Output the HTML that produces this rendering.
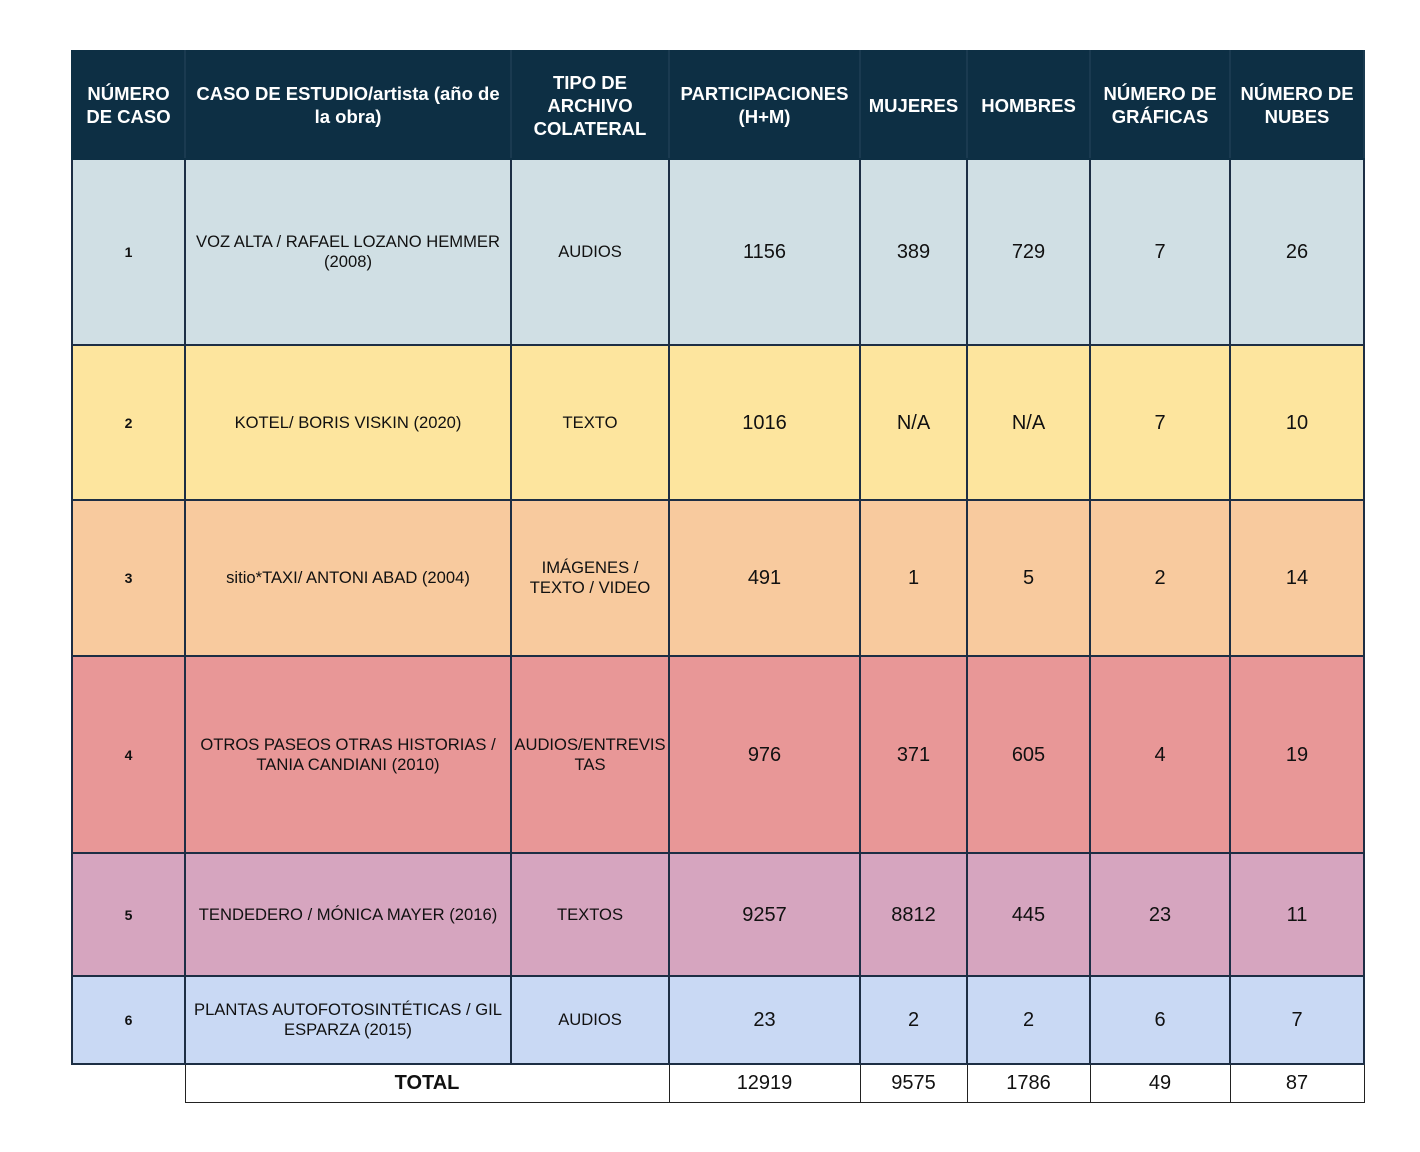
<!DOCTYPE html>
<html><head><meta charset="utf-8"><style>
body{margin:0;background:#fff;width:1420px;height:1152px;overflow:hidden;font-family:"Liberation Sans",Arial,sans-serif;}
table{position:absolute;left:71px;top:50px;border-collapse:collapse;table-layout:fixed;}
td{border:2px solid #1d2e44;text-align:center;vertical-align:middle;padding:0 2px;color:#111;font-size:16.6px;line-height:20px;}
tr.h td{background:#0d2f44;color:#fff;font-weight:bold;font-size:18.5px;line-height:23px;border-color:#0d2f44;border-right-color:#1a3a50;}
td.n{font-weight:bold;font-size:14px;}
td.v{font-size:20px;}
tr.t td{border:1px solid #222;font-size:20px;background:#fff;}
tr.t td.e{border:none;border-top:2px solid #1d2e44;}
</style></head><body>
<table>
<colgroup><col style="width:113px"><col style="width:326px"><col style="width:158px"><col style="width:191px"><col style="width:107px"><col style="width:123px"><col style="width:140px"><col style="width:134px"></colgroup>
<tr class="h" style="height:108px"><td>NÚMERO DE CASO</td><td>CASO DE ESTUDIO/artista (año de la obra)</td><td>TIPO DE ARCHIVO COLATERAL</td><td>PARTICIPACIONES (H+M)</td><td>MUJERES</td><td>HOMBRES</td><td>NÚMERO DE GRÁFICAS</td><td>NÚMERO DE NUBES</td></tr>
<tr style="height:186px;background:#d0dfe4"><td class="n">1</td><td>VOZ ALTA / RAFAEL LOZANO HEMMER (2008)</td><td>AUDIOS</td><td class="v">1156</td><td class="v">389</td><td class="v">729</td><td class="v">7</td><td class="v">26</td></tr>
<tr style="height:155px;background:#fde59e"><td class="n">2</td><td>KOTEL/ BORIS VISKIN (2020)</td><td>TEXTO</td><td class="v">1016</td><td class="v">N/A</td><td class="v">N/A</td><td class="v">7</td><td class="v">10</td></tr>
<tr style="height:156px;background:#f8ca9e"><td class="n">3</td><td>sitio*TAXI/ ANTONI ABAD (2004)</td><td>IMÁGENES /<br>TEXTO / VIDEO</td><td class="v">491</td><td class="v">1</td><td class="v">5</td><td class="v">2</td><td class="v">14</td></tr>
<tr style="height:197px;background:#e89797"><td class="n">4</td><td>OTROS PASEOS OTRAS HISTORIAS / TANIA CANDIANI (2010)</td><td>AUDIOS/ENTREVIS<br>TAS</td><td class="v">976</td><td class="v">371</td><td class="v">605</td><td class="v">4</td><td class="v">19</td></tr>
<tr style="height:123px;background:#d6a5bf"><td class="n">5</td><td>TENDEDERO / MÓNICA MAYER (2016)</td><td>TEXTOS</td><td class="v">9257</td><td class="v">8812</td><td class="v">445</td><td class="v">23</td><td class="v">11</td></tr>
<tr style="height:88px;background:#c9d9f4"><td class="n">6</td><td>PLANTAS AUTOFOTOSINTÉTICAS / GIL ESPARZA (2015)</td><td>AUDIOS</td><td class="v">23</td><td class="v">2</td><td class="v">2</td><td class="v">6</td><td class="v">7</td></tr>
<tr class="t" style="height:38px"><td class="e"></td><td colspan="2" style="font-weight:bold">TOTAL</td><td>12919</td><td>9575</td><td>1786</td><td>49</td><td>87</td></tr>
</table>
</body></html>
